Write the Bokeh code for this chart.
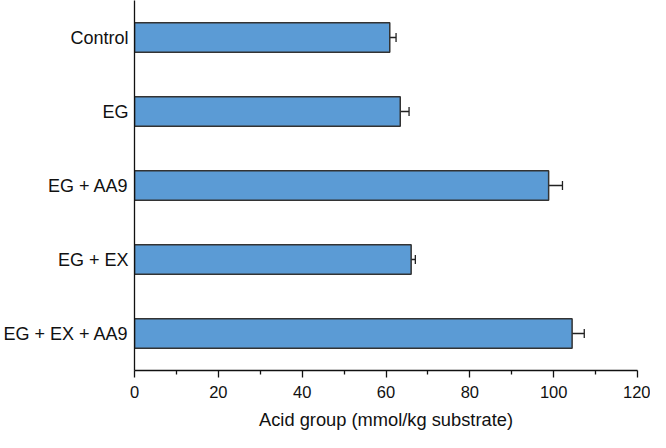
from bokeh.plotting import figure
from bokeh.models import ColumnDataSource, Range1d, FactorRange, Whisker, TeeHead, FixedTicker
from bokeh.embed import file_html
from bokeh.resources import INLINE

categories = ["Control", "EG", "EG + AA9", "EG + EX", "EG + EX + AA9"]
values = [60.9, 63.4, 98.8, 66.0, 104.4]
errors = [1.5, 2.1, 3.3, 1.0, 2.9]
x_ticks = [0, 20, 40, 60, 80, 100, 120]
x_minor = [10, 30, 50, 70, 90, 110]

src = ColumnDataSource(dict(
    cat=categories,
    val=values,
    lower=[v - e for v, e in zip(values, errors)],
    upper=[v + e for v, e in zip(values, errors)],
))

p = figure(width=650, height=432, output_backend="svg", toolbar_location=None,
           y_range=FactorRange(*reversed(categories)), x_range=Range1d(0, 120),
           min_border_left=128, min_border_right=13, min_border_top=0, min_border_bottom=58)

p.hbar(y="cat", right="val", left=0, height=0.4, source=src,
       fill_color="#5B9BD5", line_color="#333333", line_width=1.5)

w = Whisker(base="cat", lower="lower", upper="upper", dimension="width", source=src,
            line_color="#222222", line_width=1.3,
            upper_head=TeeHead(size=9, line_color="#222222", line_width=1.3),
            lower_head=TeeHead(size=9, line_color="#222222", line_width=1.3))
p.add_layout(w)

p.xgrid.visible = False
p.ygrid.visible = False
p.outline_line_color = None

xa = p.xaxis[0]
xa.ticker = FixedTicker(ticks=x_ticks, minor_ticks=x_minor)
xa.axis_label = "Acid group (mmol/kg substrate)"
xa.axis_label_text_font = "Liberation Sans"
xa.axis_label_text_font_size = "18.3px"
xa.axis_label_text_font_style = "normal"
xa.axis_label_text_color = "#111111"
xa.axis_label_standoff = 8
xa.major_label_text_font = "Liberation Sans"
xa.major_label_text_font_size = "16.5px"
xa.major_label_text_color = "#111111"
xa.major_label_standoff = 8
xa.major_tick_out = 7
xa.major_tick_in = 0
xa.minor_tick_out = 4
xa.minor_tick_in = 0
xa.axis_line_color = "#111111"
xa.axis_line_width = 1.3
xa.major_tick_line_color = "#111111"
xa.major_tick_line_width = 1.3
xa.minor_tick_line_color = "#111111"
xa.minor_tick_line_width = 1.3

ya = p.yaxis[0]
ya.major_tick_out = 0
ya.major_tick_in = 0
ya.minor_tick_out = 0
ya.major_label_text_font = "Liberation Sans"
ya.major_label_text_font_size = "18px"
ya.major_label_text_color = "#111111"
ya.major_label_standoff = 6
ya.axis_line_color = "#111111"
ya.axis_line_width = 1.3

open("out.html", "w").write(file_html(p, INLINE))
